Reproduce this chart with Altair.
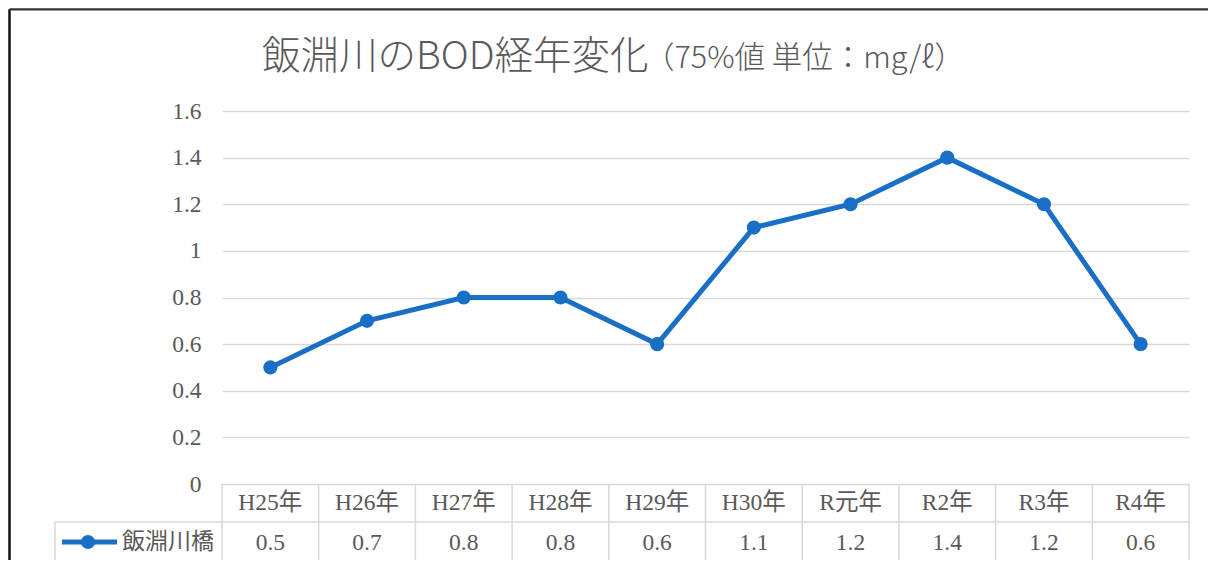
import altair as alt
import pandas as pd

categories = ["H25年", "H26年", "H27年", "H28年", "H29年", "H30年", "R元年", "R2年", "R3年", "R4年"]
values = [0.5, 0.7, 0.8, 0.8, 0.6, 1.1, 1.2, 1.4, 1.2, 0.6]
series_name = "飯淵川橋"
title_main = "飯淵川のBOD経年変化"
title_sub = "（75%値 単位：mg/ℓ）"
y_ticks = [0, 0.2, 0.4, 0.6, 0.8, 1, 1.2, 1.4, 1.6]

BLUE = "#196FC6"
GREY = "#595959"
GRID = "#d9d9d9"
SERIF = "Liberation Serif, Noto Sans CJK JP"
SANS = "Noto Sans CJK JP"

W, H = 967, 373

df = pd.DataFrame({"cat": categories, "idx": list(range(len(categories))), "val": values})
bounds = pd.DataFrame({"b": [i - 0.5 for i in range(len(categories) + 1)]})
one = pd.DataFrame({"label": [series_name]})

xscale = alt.Scale(domain=[-0.5, len(categories) - 0.5], nice=False, zero=False)
x = alt.X("idx:Q", scale=xscale, axis=None)
y = alt.Y(
    "val:Q",
    scale=alt.Scale(domain=[0, 1.6], nice=False),
    axis=alt.Axis(
        values=y_ticks, format="~g", grid=True, gridColor=GRID, gridWidth=1.5,
        domain=False, ticks=False, labelFont="Liberation Serif", labelFontSize=23.5,
        labelColor=GREY, labelPadding=21, title=None,
    ),
)

base = alt.Chart(df)
line = base.mark_line(color=BLUE, strokeWidth=5).encode(x=x, y=y)
pts = base.mark_circle(color=BLUE, size=200, opacity=1).encode(x=x, y=y)

header = base.mark_text(font=SERIF, fontSize=23.5, color=GREY, baseline="middle").encode(
    x=x, y=alt.value(392), text="cat:N")
vals = base.mark_text(font=SERIF, fontSize=23.5, color=GREY, baseline="middle").encode(
    x=x, y=alt.value(432), text=alt.Text("val:Q", format=".1f"))

vlines = alt.Chart(bounds).mark_rule(color=GRID, strokeWidth=1.5).encode(
    x=alt.X("b:Q", scale=xscale, axis=None), y=alt.value(H), y2=alt.value(450))

oc = alt.Chart(one)
hl1 = oc.mark_rule(color=GRID, strokeWidth=1.5).encode(x=alt.value(-167), x2=alt.value(W), y=alt.value(411))
hl2 = oc.mark_rule(color=GRID, strokeWidth=1.5).encode(x=alt.value(-167), x2=alt.value(W), y=alt.value(450))
vl0 = oc.mark_rule(color=GRID, strokeWidth=1.5).encode(x=alt.value(-167), y=alt.value(411), y2=alt.value(450))

leg_line = oc.mark_rule(color=BLUE, strokeWidth=5).encode(x=alt.value(-160), x2=alt.value(-105), y=alt.value(431))
leg_pt = oc.mark_circle(color=BLUE, size=200, opacity=1).encode(x=alt.value(-134), y=alt.value(431))
leg_txt = oc.mark_text(font=SANS, fontSize=23, color=GREY, align="left", baseline="middle").encode(
    x=alt.value(-100), y=alt.value(431), text="label:N")

t1 = oc.mark_text(font=SANS, fontSize=38.5, fontWeight=300, color=GREY, align="left", baseline="alphabetic").encode(
    x=alt.value(40), y=alt.value(-42), text=alt.value(title_main))
t2 = oc.mark_text(font=SANS, fontSize=30.5, fontWeight=300, color=GREY, align="left", baseline="alphabetic").encode(
    x=alt.value(422), y=alt.value(-43), text=alt.value(title_sub))

bl = oc.mark_rule(color="#111111", strokeWidth=2.5).encode(x=alt.value(-212.5), y=alt.value(-101.7), y2=alt.value(470))
bt = oc.mark_rule(color="#333333", strokeWidth=2.2).encode(x=alt.value(-212.5), x2=alt.value(1000), y=alt.value(-101.7))

chart = alt.layer(
    vlines, hl1, hl2, vl0, line, pts, header, vals, leg_line, leg_pt, leg_txt, t1, t2, bl, bt
).properties(
    width=W, height=H,
    autosize=alt.AutoSizeParams(type="none"),
    padding={"left": 214, "top": 103, "right": 19, "bottom": 76},
    background="white",
).configure_view(stroke=None)

chart.save("out.html", embed_options={"renderer": "svg", "actions": False})
